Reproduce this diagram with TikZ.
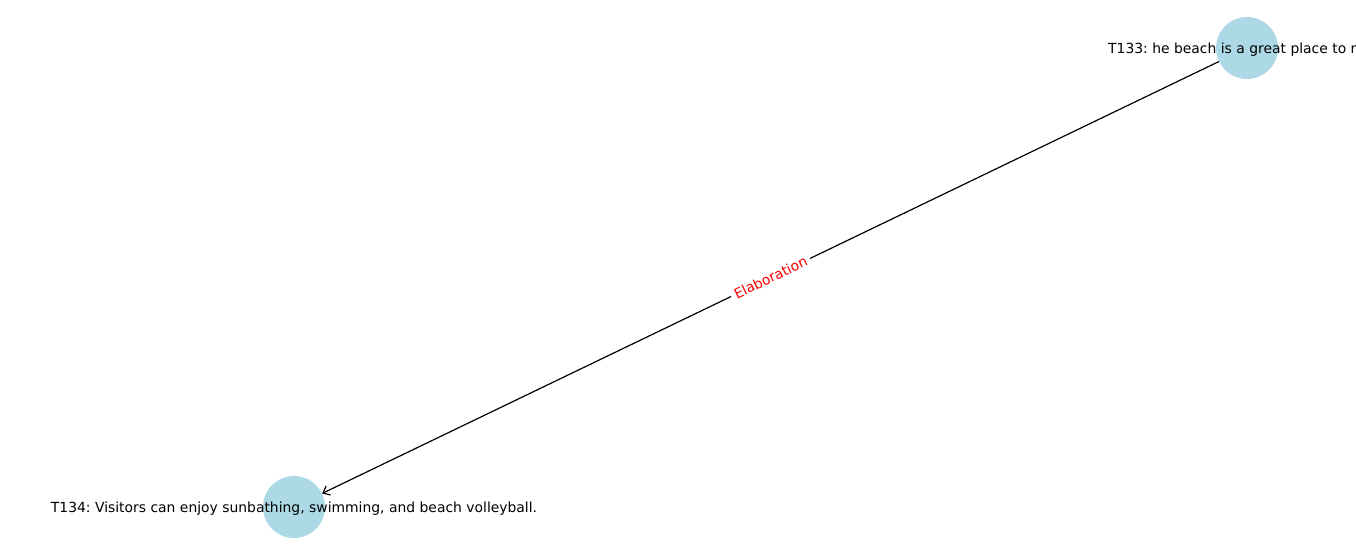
\documentclass[tikz,border=0pt]{standalone}
\usepackage{fontspec}
\setmainfont{DejaVu Sans}
\usetikzlibrary{arrows.meta}
\definecolor{nodeblue}{HTML}{ADD8E6}
\tikzset{
  gnode/.style={circle, fill=nodeblue, draw=none, minimum size=62pt, inner sep=0pt},
  gtext/.style={font=\fontsize{13.9}{16}\selectfont\frenchspacing, text=black, inner sep=0pt},
  gedge/.style={draw=black, line width=1.2pt, -{Straight Barb[length=6pt,width=10pt]}},
  elabel/.style={font=\fontsize{13.9}{16}\selectfont, text=red, fill=white, inner sep=4pt, sloped}
}
\begin{document}
\begin{tikzpicture}[x=1pt,y=-1pt]
\useasboundingbox (0,0) rectangle (1356,555);
\node[gnode] (t133) at (1247,48) {};
\node[gnode] (t134) at (294,507) {};
\draw[gedge] (t133) -- node[elabel] (lab) {Elaboration} (t134);
\node[gtext, anchor=west] (t133txt) at (1108,49.5) {T133: he beach is a great place to r};
\node[gtext] (t134txt) at (294,508.5) {T134: Visitors can enjoy sunbathing, swimming, and beach volleyball.};
\end{tikzpicture}
\end{document}
